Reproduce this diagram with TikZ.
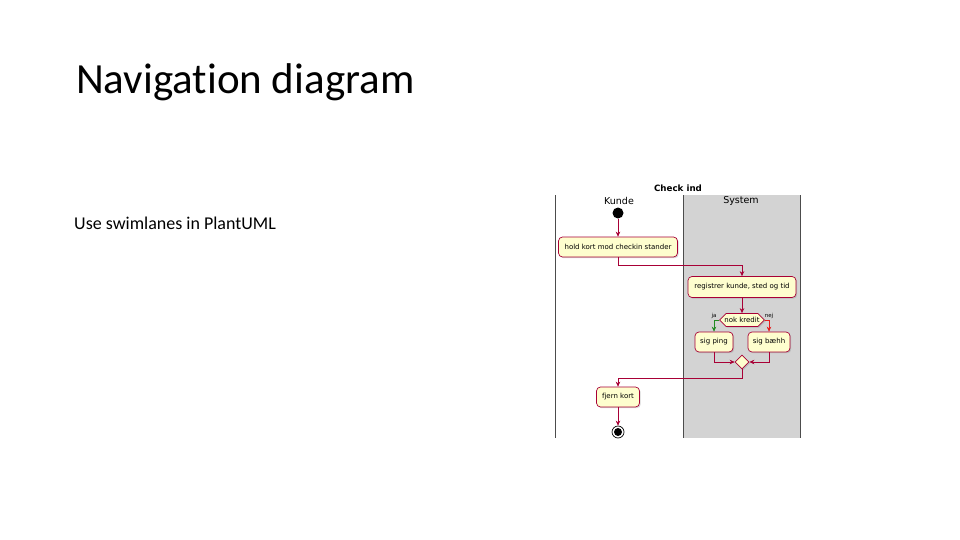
\documentclass[tikz,border=0pt]{standalone}
\usepackage{fontspec}
\setmainfont{Carlito}[Ligatures=NoCommon]
\newfontfamily\umlfont{DejaVu Sans}
\usetikzlibrary{arrows.meta,shapes.geometric,shapes.misc,shadows}
\definecolor{umlRed}{RGB}{168,0,54}
\definecolor{umlFill}{RGB}{254,254,206}
\definecolor{laneGrey}{RGB}{211,211,211}
\definecolor{yesGreen}{RGB}{34,139,34}
\definecolor{noRed}{RGB}{230,30,30}
\tikzset{
  actbox/.style={draw=umlRed,fill=umlFill,rounded corners=4pt,line width=0.7pt,
                 inner sep=0pt,font=\umlfont\fontsize{7}{8}\selectfont,
                 drop shadow={shadow xshift=1.2pt,shadow yshift=-1.2pt,opacity=0.3}},
  decbox/.style={draw=umlRed,fill=umlFill,line width=0.7pt,
                 chamfered rectangle,chamfered rectangle xsep=4pt,inner ysep=0.6pt,inner xsep=1.5pt,
                 font=\umlfont\fontsize{7}{8}\selectfont,
                 drop shadow={shadow xshift=1.2pt,shadow yshift=-1.2pt,opacity=0.3}},
  mergebox/.style={draw=umlRed,fill=umlFill,line width=0.7pt,diamond,
                   minimum size=14pt,inner sep=0pt,
                   drop shadow={shadow xshift=1.2pt,shadow yshift=-1.2pt,opacity=0.3}},
  arr/.style={-{Stealth[length=5pt,width=4.5pt]},umlRed,line width=0.7pt},
  arrg/.style={-{Stealth[length=5pt,width=4.5pt]},yesGreen,line width=0.7pt},
  arrr/.style={-{Stealth[length=5pt,width=4.5pt]},noRed,line width=0.7pt},
  lane/.style={draw=black!70,line width=1pt},
  lanehead/.style={font=\umlfont\fontsize{9.5}{11}\selectfont,inner sep=0pt},
  guardlbl/.style={font=\umlfont\fontsize{5.5}{6}\selectfont,inner sep=0.5pt},
}
\begin{document}
\begin{tikzpicture}[x=1pt,y=-1pt]
  \useasboundingbox[fill=white] (0,0) rectangle (960,540);

  \node[anchor=base west,inner sep=0pt,font=\fontsize{43}{50}\selectfont] (title) at (76,94) {Navigation diagram};
  \node[anchor=base west,inner sep=0pt,font=\fontsize{18}{22}\selectfont] (sub) at (74,229) {Use swimlanes in PlantUML};

  % swimlanes
  \fill[laneGrey] (683,195) rectangle (800,438);
  \draw[lane] (555,195) -- (555,438);
  \draw[lane] (683,195) -- (683,438);
  \draw[lane] (800,195) -- (800,438);
  \node[font=\umlfont\bfseries\fontsize{8.7}{10}\selectfont,inner sep=0pt] (chk) at (678,188) {Check ind};
  \node[lanehead] (kunde) at (619,201) {Kunde};
  \node[lanehead] (system) at (741,201) {System};

  % activities
  \node[circle,fill=black,minimum size=11pt,inner sep=0pt] (start) at (618,213) {};
  \node[actbox,minimum width=119pt,minimum height=20pt] (hold) at (618,247) {hold kort mod checkin stander};
  \node[actbox,minimum width=108pt,minimum height=21pt] (reg) at (742,287) {registrer kunde, sted og tid};
  \node[decbox,minimum height=11pt,minimum width=43pt] (kredit) at (742,320) {nok kredit};
  \node[guardlbl] (ja) at (714,316) {ja};
  \node[guardlbl] (nej) at (769,316) {nej};
  \node[actbox,minimum width=38pt,minimum height=20pt] (ping) at (714,342) {sig ping};
  \node[actbox,minimum width=42pt,minimum height=20pt] (baehh) at (769,342) {sig bæhh};
  \node[mergebox] (merge) at (742,362) {};
  \node[actbox,minimum width=43pt,minimum height=20pt] (fjern) at (618,397) {fjern kort};
  \node[circle,draw=black,line width=0.7pt,minimum size=12pt,inner sep=0pt] (stop) at (618,432) {};
  \node[circle,fill=black,minimum size=8pt,inner sep=0pt] (stopin) at (stop) {};

  % flow
  \draw[arr] (start) -- (hold);
  \draw[arr] (hold.south) |- (742,265) -- (reg.north);
  \draw[arr] (reg) -- (kredit);
  \draw[arrg] (kredit.west) -| (ping.north);
  \draw[arrr] (kredit.east) -| (baehh.north);
  \draw[arr] (ping.south) |- (merge.west);
  \draw[arr] (baehh.south) |- (merge.east);
  \draw[arr] (merge.south) |- (618,378) -- (fjern.north);
  \draw[arr] (fjern) -- (stop);
\end{tikzpicture}
\end{document}
